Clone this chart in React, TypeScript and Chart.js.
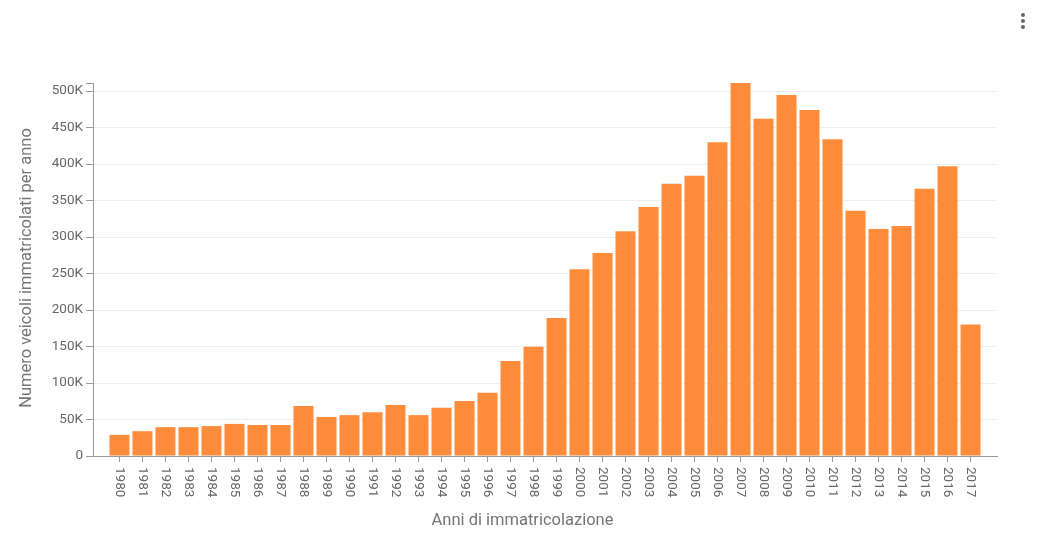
import React, { useEffect, useRef } from 'react';
import { Chart, registerables } from 'chart.js';

Chart.register(...registerables);

// Years on the x axis
const years: number[] = [
  1980, 1981, 1982, 1983, 1984, 1985, 1986, 1987, 1988, 1989,
  1990, 1991, 1992, 1993, 1994, 1995, 1996, 1997, 1998, 1999,
  2000, 2001, 2002, 2003, 2004, 2005, 2006, 2007, 2008, 2009,
  2010, 2011, 2012, 2013, 2014, 2015, 2016, 2017,
];

// Registered vehicles per year
const registrations: number[] = [
  29000, 34000, 39500, 39500, 41000, 44000, 42500, 42500, 68500, 53500,
  56000, 60000, 70000, 56000, 66000, 75500, 86500, 130000, 149500, 189000,
  256000, 278000, 308000, 341000, 373000, 384000, 430000, 511000, 462000, 494500,
  474000, 434000, 336000, 311000, 315000, 366000, 397000, 180000,
];

const xTitle = 'Anni di immatricolazione';
const yTitle = 'Numero veicoli immatricolati per anno';

const FONT = 'Roboto, "Noto Sans", sans-serif';
const TICK_STEP = 50000;

const formatK = (v: number) => (v === 0 ? '0' : `${v / 1000}K`);

// Draws the rotated year labels and the two axis titles
const labelsPlugin = {
  id: 'customLabels',
  afterDraw(chart: Chart) {
    const { ctx, scales, width, height } = chart;
    const x = scales.x;
    ctx.save();
    ctx.fillStyle = '#666';
    ctx.font = `13.5px ${FONT}`;
    ctx.textAlign = 'left';
    ctx.textBaseline = 'middle';
    years.forEach((year) => {
      const px = x.getPixelForValue(year);
      ctx.save();
      ctx.translate(px, x.top + 11);
      ctx.rotate(Math.PI / 2);
      ctx.fillText(String(year), 0, 0);
      ctx.restore();
    });

    ctx.fillStyle = '#757575';
    ctx.font = `16.5px ${FONT}`;
    ctx.textAlign = 'center';
    ctx.fillText(xTitle, width / 2 + 3, 521);

    ctx.translate(27, height / 2);
    ctx.rotate(-Math.PI / 2);
    ctx.fillText(yTitle, 0, 0);
    ctx.restore();
  },
};

const RegistrationsChart: React.FC = () => {
  const chartRef = useRef<HTMLCanvasElement>(null);
  const chartInstance = useRef<Chart | null>(null);

  useEffect(() => {
    if (!chartRef.current) return;
    const ctx = chartRef.current.getContext('2d');
    if (!ctx) return;

    if (chartInstance.current) {
      chartInstance.current.destroy();
    }

    const yMax = Math.max(...registrations);

    chartInstance.current = new Chart(ctx, {
      type: 'bar',
      data: {
        datasets: [
          {
            label: 'Veicoli',
            data: years.map((year, i) => ({ x: year, y: registrations[i] })),
            backgroundColor: '#ff8c3b',
            borderWidth: 0,
            barPercentage: 0.87,
            categoryPercentage: 1,
          },
        ],
      },
      options: {
        responsive: true,
        maintainAspectRatio: false,
        animation: false,
        layout: {
          padding: { top: 83, right: 42, bottom: 0, left: 0 },
        },
        plugins: {
          legend: { display: false },
          tooltip: { enabled: false },
        },
        scales: {
          x: {
            type: 'linear',
            min: years[0] - 1.15,
            max: years[years.length - 1] + 1.15,
            offset: false,
            afterBuildTicks: (scale) => {
              scale.ticks = years.map((value) => ({ value }));
            },
            afterFit: (scale) => {
              scale.height = 80;
            },
            ticks: { display: false },
            grid: {
              offset: false,
              drawOnChartArea: false,
              drawTicks: true,
              tickLength: 6,
              tickColor: '#999',
            },
            border: { display: true, color: '#999', width: 1 },
          },
          y: {
            min: 0,
            max: yMax,
            afterBuildTicks: (scale) => {
              const ticks = [];
              for (let v = 0; v <= yMax; v += TICK_STEP) ticks.push({ value: v });
              ticks.push({ value: yMax });
              scale.ticks = ticks;
            },
            afterFit: (scale) => {
              scale.width = 93;
            },
            ticks: {
              color: '#666',
              padding: 3,
              font: { family: FONT, size: 13.5 },
              callback: (value) => {
                const v = Number(value);
                return v % TICK_STEP === 0 ? formatK(v) : '';
              },
            },
            grid: {
              color: (c) =>
                c.tick && c.tick.value % TICK_STEP === 0 ? '#eeeeee' : 'rgba(0,0,0,0)',
              tickColor: '#999',
              tickLength: 7,
            },
            border: { display: true, color: '#999', width: 1 },
          },
        },
      },
      plugins: [labelsPlugin],
    });

    return () => {
      if (chartInstance.current) {
        chartInstance.current.destroy();
        chartInstance.current = null;
      }
    };
  }, []);

  return (
    <div style={{ position: 'absolute', left: 0, top: 0, width: 1039, height: 536 }}>
      <canvas ref={chartRef}></canvas>
      <div style={{ position: 'absolute', left: 1021, top: 13 }}>
        {[0, 1, 2].map((i) => (
          <div
            key={i}
            style={{
              width: 4,
              height: 4,
              borderRadius: 2,
              background: '#666',
              marginBottom: 2,
            }}
          />
        ))}
      </div>
    </div>
  );
};

export default function App() {
  return <RegistrationsChart />;
}
